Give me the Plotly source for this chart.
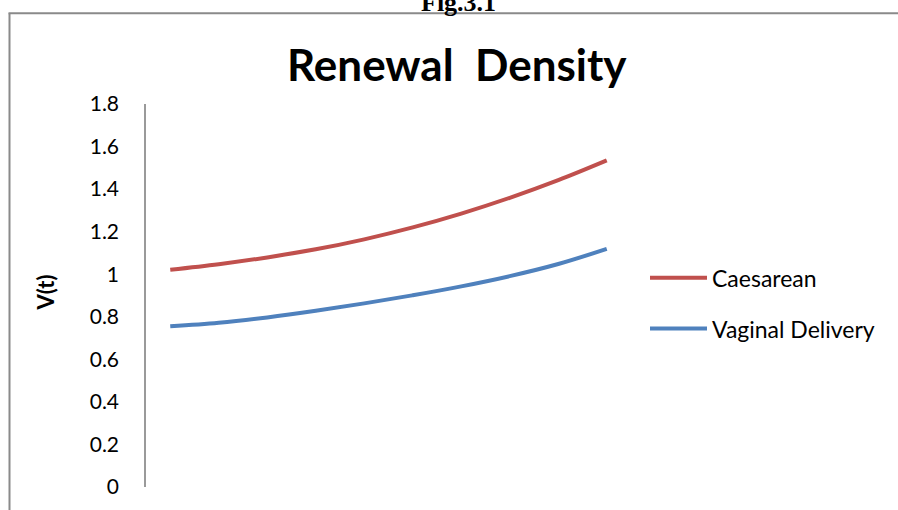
import plotly.graph_objects as go

# Renewal density V(t) for the two delivery types
t_values = [1, 2, 3, 4, 5, 6, 7, 8, 9, 10]
caesarean = [1.021, 1.047, 1.079, 1.117, 1.164, 1.220, 1.285, 1.359, 1.442, 1.535]
vaginal = [0.755, 0.772, 0.797, 0.828, 0.863, 0.901, 0.943, 0.991, 1.048, 1.119]
y_ticks = [0, 0.2, 0.4, 0.6, 0.8, 1.0, 1.2, 1.4, 1.6, 1.8]
y_tick_text = ["0", "0.2", "0.4", "0.6", "0.8", "1", "1.2", "1.4", "1.6", "1.8"]

W, H = 898, 510
L, R, T, B = 146, 631, 104, 494  # plot-area pixel box


def px(x):
    return (x - L) / (R - L)


def py(y):
    return (B - y) / (B - T)


FONT = "Lato"
RED = "#C0504D"
BLUE = "#4F81BD"
FRAME = "#8a8a8a"

fig = go.Figure()
fig.add_trace(go.Scatter(
    x=t_values, y=caesarean, name="Caesarean", mode="lines",
    line=dict(color=RED, width=4, shape="spline", smoothing=1.0),
    legendgroup="a",
))
fig.add_trace(go.Scatter(
    x=t_values, y=vaginal, name="Vaginal Delivery", mode="lines",
    line=dict(color=BLUE, width=4, shape="spline", smoothing=1.0),
    legendgroup="b",
))

fig.update_layout(
    width=W, height=H,
    margin=dict(l=L, r=W - R, t=T, b=H - B, pad=0),
    paper_bgcolor="white", plot_bgcolor="white",
    font=dict(family=FONT, size=21, color="black"),
    showlegend=True,
    legend=dict(
        x=px(645), y=py(259), xanchor="left", yanchor="top",
        font=dict(family=FONT, size=23, color="black"),
        traceorder="grouped", tracegroupgap=18,
        itemwidth=57, bgcolor="rgba(0,0,0,0)", borderwidth=0,
    ),
    xaxis=dict(
        range=[0.5, 10.5], showticklabels=False, showgrid=False,
        zeroline=False, showline=False, ticks="",
    ),
    yaxis=dict(
        range=[0, 1.8], tickvals=y_ticks, ticktext=y_tick_text,
        showgrid=False, zeroline=False, showline=True,
        linecolor="#9a9a9a", linewidth=1.5, ticks="",
        ticklabelstandoff=21,
        tickfont=dict(family=FONT, size=21, color="black"),
    ),
    shapes=[
        dict(type="line", xref="paper", yref="paper",
             x0=px(9.5), x1=px(9.5), y0=py(11.5), y1=py(520),
             line=dict(color=FRAME, width=2)),
        dict(type="line", xref="paper", yref="paper",
             x0=px(8.5), x1=px(905), y0=py(11.5), y1=py(11.5),
             line=dict(color=FRAME, width=2)),
    ],
    annotations=[
        dict(text="<b>Renewal  Density</b>", xref="paper", yref="paper",
             x=px(457), y=py(63), xanchor="center", yanchor="middle",
             showarrow=False, font=dict(family=FONT, size=44, color="black")),
        dict(text="<b>V(t)</b>", xref="paper", yref="paper",
             x=px(46), y=py(296), xanchor="center", yanchor="middle",
             textangle=-90, showarrow=False,
             font=dict(family=FONT, size=22, color="black")),
        dict(text="<b>Fig.3.1</b>", xref="paper", yref="paper",
             x=px(458.5), y=py(17), xanchor="center", yanchor="bottom",
             showarrow=False,
             font=dict(family="Liberation Serif", size=26, color="black")),
    ],
)

fig.write_html("out.html")
